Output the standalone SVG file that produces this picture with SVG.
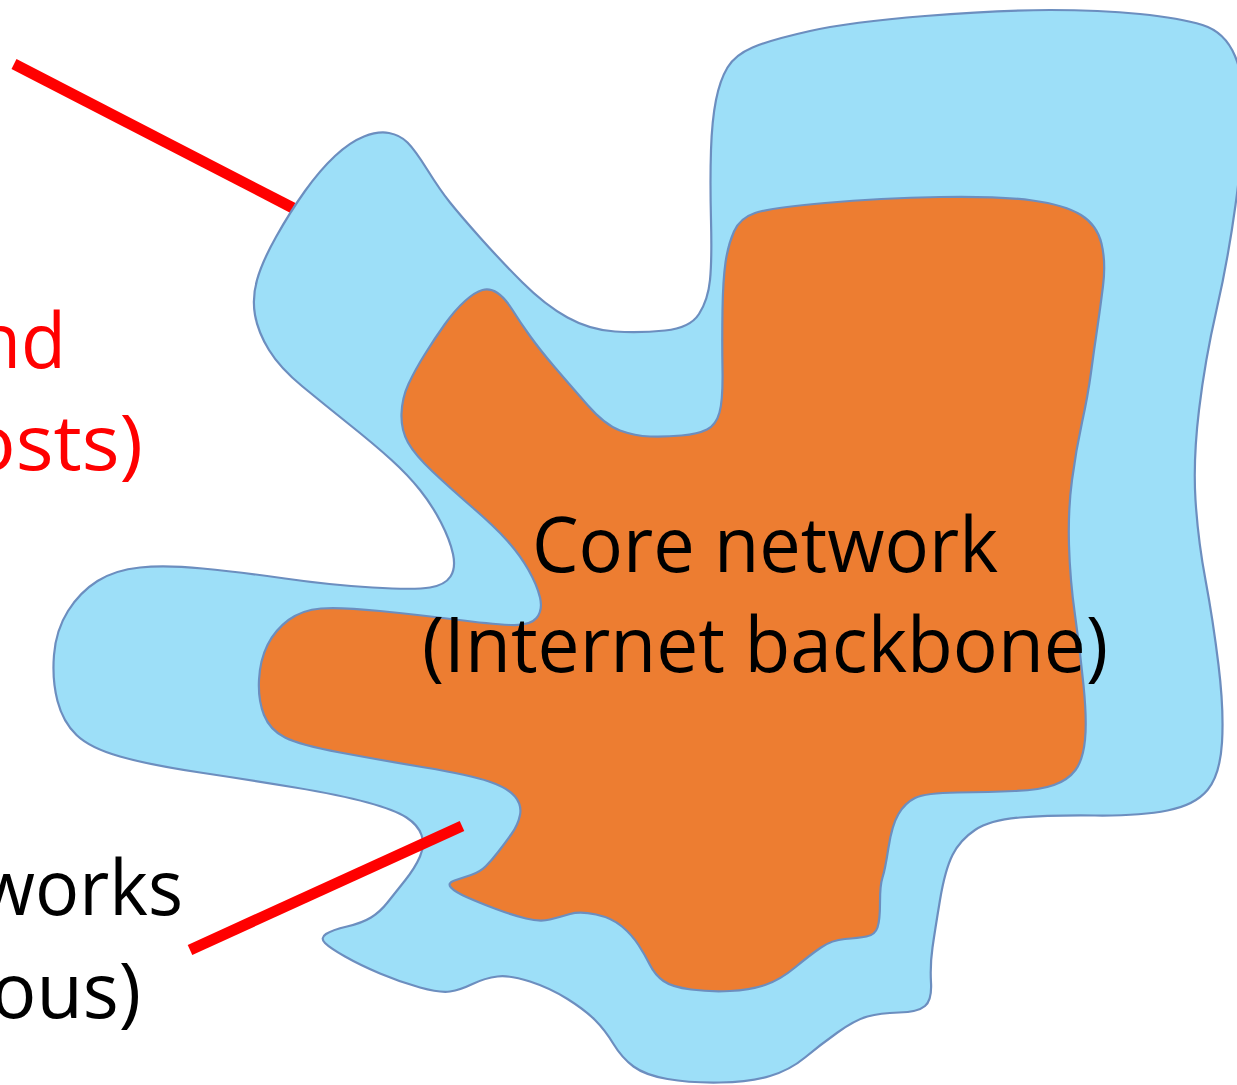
<svg xmlns="http://www.w3.org/2000/svg" width="1237" height="1085" viewBox="0 0 1237 1085">
<style>
.blob{stroke:#6C8EBF;stroke-width:2.2;stroke-linejoin:round}
.edge{fill:#9DDFF8}
.core{fill:#ED7D31}
.lbl{font-family:"Open Sans","Liberation Sans",sans-serif;font-size:77px}
.red{fill:#FF0000}
.blk{fill:#000000}
.ptr{stroke:#FF0000;stroke-width:11;stroke-linecap:butt;fill:none}
</style>
<rect width="1237" height="1085" fill="#FFFFFF"/>
<g id="connectors-back">
<line class="ptr" x1="14" y1="64" x2="293" y2="208"/>
</g>
<g id="edge-network">
<path class="blob edge" d="M364,136.5 Q378,131 389,133 Q400,135 407.5,142.5 Q415,150 427.5,170 Q440,190 450,202.5 Q460,215 480,237.5 Q500,260 522.5,282.5 Q545,305 567.5,317.5 Q590,330 615,331.5 Q640,333 665,330.5 Q690,328 699,314 Q708,300 710,280 Q712,260 711,220 Q710,180 711,150 Q712,120 716,100 Q720,80 727.5,67.5 Q735,55 752.5,47.5 Q770,40 810,31 Q850,22 925,16 Q1000,10 1050,10 Q1100,10 1140,14 Q1180,18 1202.5,25 Q1225,32 1235,56 Q1245,80 1244,115 Q1243,150 1235.5,205 Q1228,260 1216.5,310 Q1205,360 1199,410 Q1193,460 1195.5,500 Q1198,540 1205.5,580 Q1213,620 1218.5,665 Q1224,710 1222,742.5 Q1220,775 1207.5,790 Q1195,805 1167.5,810.5 Q1140,816 1095,815.5 Q1050,815 1020,817.5 Q990,820 975,830 Q960,840 952.5,855 Q945,870 940,900 Q935,930 932.5,947.5 Q930,965 931,982.5 Q932,1000 925,1006 Q918,1012 899,1012.5 Q880,1013 867.5,1016.5 Q855,1020 837.5,1032.5 Q820,1045 805,1057.5 Q790,1070 770,1076 Q750,1082 720,1082.5 Q690,1083 667.5,1079 Q645,1075 633.5,1066.5 Q622,1058 613.5,1044 Q605,1030 595,1020 Q585,1010 567.5,999 Q550,988 530,981.5 Q510,975 497.5,976.5 Q485,978 472.5,984 Q460,990 450,991.5 Q440,993 420,987.5 Q400,982 380,973.5 Q360,965 345,956.5 Q330,948 325,943 Q320,938 326,934 Q332,930 347,926.5 Q362,923 371,917.5 Q380,912 387.5,902.5 Q395,893 405,880.5 Q415,868 420,856.5 Q425,845 421.5,835 Q418,825 406.5,817.5 Q395,810 367.5,802.5 Q340,795 295,787.5 Q250,780 200,772.5 Q150,765 120,756.5 Q90,748 76.5,735 Q63,722 57.5,701 Q52,680 54,655 Q56,630 68,611 Q80,592 97.5,581 Q115,570 140,567.5 Q165,565 202.5,568.5 Q240,572 285,578.5 Q330,585 372.5,587.5 Q415,590 430,587.5 Q445,585 450.5,576.5 Q456,568 453,554 Q450,540 441,522.5 Q432,505 420,490 Q408,475 391.5,460 Q375,445 350,425 Q325,405 302.5,386.5 Q280,368 269,350 Q258,332 255,315 Q252,298 257,280 Q262,262 276,237 Q290,212 305,191 Q320,170 335,156 Q350,142 364,136.5 Z"/>
</g>
<g id="core-network">
<path class="blob core" d="M482.5,290 Q490,288 497.5,293 Q505,298 512.5,310 Q520,322 530,336 Q540,350 555,367.5 Q570,385 587.5,405 Q605,425 620,430.5 Q635,436 650,436.5 Q665,437 681.5,435.5 Q698,434 707,429.5 Q716,425 719.5,412.5 Q723,400 722.5,370 Q722,340 722.5,310 Q723,280 725.5,262.5 Q728,245 734,231.5 Q740,218 755,213 Q770,208 825,203 Q880,198 940,197 Q1000,196 1032.5,200.5 Q1065,205 1081,215 Q1097,225 1101.5,243.5 Q1106,262 1103,286 Q1100,310 1097,330 Q1094,350 1091,372.5 Q1088,395 1082,422.5 Q1076,450 1072,480 Q1068,510 1069,545 Q1070,580 1075,615 Q1080,650 1083.5,685 Q1087,720 1085,740 Q1083,760 1075.5,770 Q1068,780 1054,785 Q1040,790 1015,791 Q990,792 957.5,792.5 Q925,793 915,798 Q905,803 898.5,814 Q892,825 888.5,847.5 Q885,870 882.5,877.5 Q880,885 880,902.5 Q880,920 877.5,927.5 Q875,935 866.5,936.5 Q858,938 845,939 Q832,940 821,947.5 Q810,955 795,967.5 Q780,980 765,985 Q750,990 730,991 Q710,992 691,989.5 Q672,987 663.5,981 Q655,975 650,965 Q645,955 638.5,945 Q632,935 622,926.5 Q612,918 596,914.5 Q580,911 570,914 Q560,917 550,919.5 Q540,922 526,918.5 Q512,915 496,909 Q480,903 467.5,897.5 Q455,892 451,887.5 Q447,883 454.5,880.5 Q462,878 471,875 Q480,872 486,866 Q492,860 498.5,851.5 Q505,843 511.5,834 Q518,825 520,815 Q522,805 515,796.5 Q508,788 489,781.5 Q470,775 425,767.5 Q380,760 340,752.5 Q300,745 285,737.5 Q270,730 264,715 Q258,700 259,680 Q260,660 267.5,645 Q275,630 288.5,620 Q302,610 321,608.5 Q340,607 380,611 Q420,615 455,619.5 Q490,624 510,625 Q530,626 536.5,618 Q543,610 540,597.5 Q537,585 528.5,570 Q520,555 507.5,541 Q495,527 472.5,507.5 Q450,488 432.5,471.5 Q415,455 408,442.5 Q401,430 401.5,414 Q402,398 408.5,384 Q415,370 425,354 Q435,338 445,324 Q455,310 465,301 Q475,292 482.5,290 Z"/>
</g>
<g id="connectors">
<line class="ptr" x1="190" y1="950" x2="462" y2="826"/>
</g>
<g id="core-label">
<text class="lbl blk" x="765" y="572" text-anchor="middle" textLength="466" lengthAdjust="spacingAndGlyphs">Core network</text>
<text class="lbl blk" x="765" y="672" text-anchor="middle" textLength="686" lengthAdjust="spacingAndGlyphs">(Internet backbone)</text>
</g>
<g id="edge-label">
<text class="lbl red" x="66" y="368" text-anchor="end" textLength="90" lengthAdjust="spacingAndGlyphs">nd</text>
<text class="lbl red" x="143" y="470" text-anchor="end" textLength="175" lengthAdjust="spacingAndGlyphs">osts)</text>
</g>
<g id="access-label">
<text class="lbl blk" x="183" y="915" text-anchor="end" textLength="205" lengthAdjust="spacingAndGlyphs">works</text>
<text class="lbl blk" x="141" y="1018" text-anchor="end" textLength="150" lengthAdjust="spacingAndGlyphs">ous)</text>
</g>
</svg>
